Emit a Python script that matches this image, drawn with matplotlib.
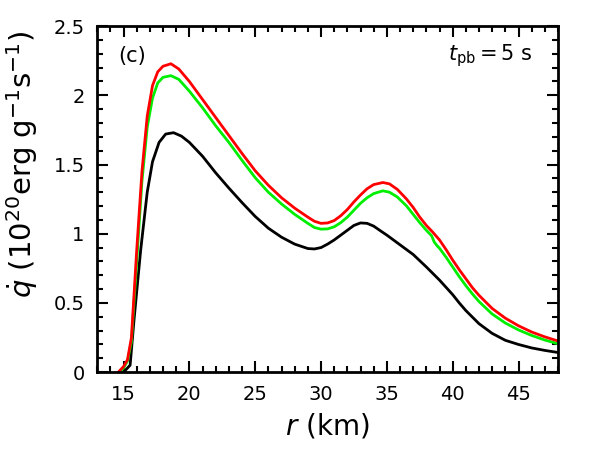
import matplotlib
matplotlib.use("Agg")
import matplotlib.pyplot as plt
from matplotlib.ticker import MultipleLocator

plt.rcParams['font.family'] = ['DejaVu Sans']
plt.rcParams['mathtext.fontset'] = 'dejavusans'

# red curve
r_red = [14.6, 15.0, 15.3, 15.6, 16.0, 16.4, 16.8, 17.2, 17.6, 18.0, 18.6, 19.2, 20, 21, 22,
         23, 24, 25, 26, 27, 28, 29, 29.5, 30, 30.5, 31, 31.5, 32, 32.5, 33, 33.5, 34, 34.7,
         35.2, 35.8, 36.5, 37, 37.5, 38, 38.5, 39, 39.5, 40, 40.5, 41, 41.5, 42, 43, 44, 45,
         46, 47, 48]
q_red = [0.0, 0.04, 0.09, 0.25, 0.88, 1.45, 1.85, 2.07, 2.17, 2.21, 2.228, 2.19, 2.10, 1.97,
         1.84, 1.71, 1.58, 1.455, 1.35, 1.26, 1.185, 1.12, 1.09, 1.075, 1.078, 1.095, 1.13,
         1.175, 1.23, 1.28, 1.325, 1.355, 1.37, 1.36, 1.32, 1.25, 1.19, 1.12, 1.06, 1.01,
         0.955, 0.885, 0.81, 0.74, 0.675, 0.61, 0.555, 0.46, 0.39, 0.335, 0.29, 0.255, 0.225]

# green curve
r_green = [14.7, 15.0, 15.3, 15.6, 16.0, 16.4, 16.8, 17.2, 17.6, 18.0, 18.6, 19.2, 20, 21,
           22, 23, 24, 25, 26, 27, 28, 29, 29.5, 30, 30.5, 31, 31.5, 32, 32.5, 33, 33.5, 34,
           34.7, 35.2, 35.8, 36.5, 37, 37.5, 38, 38.4, 38.6, 38.8, 39, 39.5, 40, 40.5, 41,
           41.5, 42, 43, 44, 45, 46, 47, 48]
q_green = [0.0, 0.03, 0.08, 0.22, 0.80, 1.38, 1.77, 1.98, 2.09, 2.13, 2.142, 2.115, 2.03,
           1.91, 1.78, 1.66, 1.53, 1.405, 1.30, 1.215, 1.14, 1.075, 1.045, 1.033, 1.035, 1.05,
           1.08, 1.12, 1.17, 1.22, 1.26, 1.29, 1.31, 1.30, 1.265, 1.20, 1.14, 1.08, 1.025,
           0.985, 0.94, 0.915, 0.895, 0.83, 0.76, 0.69, 0.625, 0.565, 0.51, 0.42, 0.355,
           0.305, 0.265, 0.232, 0.205]

# black curve
r_black = [15.0, 15.3, 15.5, 15.8, 16.3, 16.8, 17.2, 17.7, 18.2, 18.8, 19.4, 20, 21, 22, 23,
           24, 25, 26, 27, 28, 29, 29.5, 30, 30.5, 31, 31.5, 32, 32.5, 33, 33.5, 34, 34.5,
           35, 36, 37, 38, 39, 40, 40.5, 41, 42, 43, 44, 45, 46, 47, 48]
q_black = [0.0, 0.03, 0.05, 0.38, 0.88, 1.30, 1.52, 1.66, 1.72, 1.73, 1.705, 1.66, 1.56,
           1.44, 1.33, 1.225, 1.125, 1.04, 0.975, 0.925, 0.893, 0.89, 0.90, 0.925, 0.955,
           0.99, 1.025, 1.06, 1.078, 1.075, 1.055, 1.022, 0.99, 0.92, 0.85, 0.76, 0.665,
           0.56, 0.50, 0.445, 0.35, 0.28, 0.23, 0.20, 0.175, 0.157, 0.142]

fig = plt.figure(figsize=(6, 4.5), dpi=100)
ax = fig.add_axes([0.162, 0.173, 0.768, 0.769])

ax.plot(r_black, q_black, color='black', lw=2.0)
ax.plot(r_green, q_green, color='#00ee00', lw=2.0)
ax.plot(r_red, q_red, color='red', lw=2.0)

ax.set_xlim(13, 48)
ax.set_ylim(0, 2.5)
ax.xaxis.set_major_locator(MultipleLocator(5))
ax.xaxis.set_minor_locator(MultipleLocator(1))
ax.yaxis.set_minor_locator(MultipleLocator(0.1))
ax.set_yticks([0, 0.5, 1, 1.5, 2, 2.5])
ax.set_yticklabels(['0', '0.5', '1', '1.5', '2', '2.5'])

ax.tick_params(which='both', direction='in', top=True, right=True, width=1.5, labelsize=14)
ax.tick_params(which='major', length=8, pad=9)
ax.tick_params(which='minor', length=4)
for s in ax.spines.values():
    s.set_linewidth(2)

ax.set_xlabel(r'$r$ (km)', fontsize=20, labelpad=6)
ax.set_ylabel(r'$\dot{q}$ ($10^{20}$erg g$^{-1}$s$^{-1}$)', fontsize=21)
ax.yaxis.set_label_coords(-0.125, 0.6)

ax.text(0.045, 0.915, '(c)', transform=ax.transAxes, fontsize=15, va='center')
ax.text(0.945, 0.915, r'$t_{\rm pb}=5$ s', transform=ax.transAxes, fontsize=15,
        va='center', ha='right')

fig.savefig('out.png', dpi=100)
